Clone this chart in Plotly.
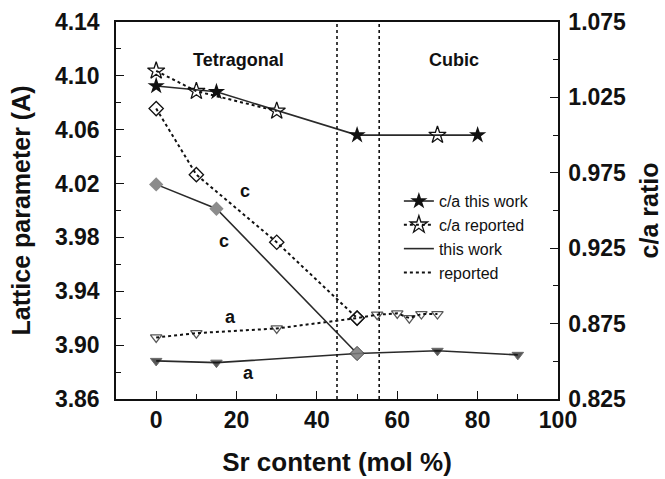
import plotly.graph_objects as go

# ---- data ----
comp_ca_work = [0, 15, 50, 80]
ca_work = [1.0326, 1.0287, 1.000, 1.000]

comp_ca_rep = [0, 10, 30, 70]
ca_rep = [1.0426, 1.0291, 1.016, 1.000]

comp_c_work = [0, 15, 50]
c_work = [4.0194, 4.0013, 3.8938]

comp_a_work = [0, 15, 50, 70, 90]
a_work = [3.8883, 3.8870, 3.8938, 3.8958, 3.8928]

comp_c_rep = [0, 10, 30, 50]
c_rep = [4.0757, 4.0266, 3.9764, 3.9201]

comp_a_rep = [0, 10, 30, 50, 55, 60, 63, 66, 70]
a_rep = [3.9057, 3.9089, 3.9124, 3.9201, 3.9226, 3.9236, 3.9201, 3.9231, 3.9231]

phase_boundaries = [45, 55.5]

x_ticks = [0, 20, 40, 60, 80, 100]

FONT = "Liberation Sans, Arial, sans-serif"
BLACK = "#111111"
LINE = "#2a2a2a"
GRAY = "#8c8c8c"

fig = go.Figure()

# lattice parameter traces (left axis)
fig.add_trace(go.Scatter(
    x=comp_c_rep, y=c_rep, mode="lines+markers", showlegend=False,
    line=dict(color=BLACK, width=2, dash="dot"),
    marker=dict(symbol="diamond-open", size=11, color=BLACK, line=dict(width=1.3)),
))
fig.add_trace(go.Scatter(
    x=comp_a_rep, y=a_rep, mode="lines+markers", showlegend=False,
    line=dict(color=BLACK, width=2, dash="dot"),
    marker=dict(symbol=["diamond-open" if v == 50 else "triangle-down-open" for v in comp_a_rep],
                size=[11 if v == 50 else 10 for v in comp_a_rep], color=BLACK, line=dict(width=1.3)),
))
fig.add_trace(go.Scatter(
    x=comp_c_work, y=c_work, mode="lines+markers", showlegend=False,
    line=dict(color=LINE, width=1.6),
    marker=dict(symbol="diamond", size=11, color=GRAY),
))
fig.add_trace(go.Scatter(
    x=comp_a_work, y=a_work, mode="lines+markers", showlegend=False,
    line=dict(color=LINE, width=1.6),
    marker=dict(symbol=["diamond" if v == 50 else "triangle-down" for v in comp_a_work],
                size=[11 if v == 50 else 10 for v in comp_a_work],
                color=[GRAY if v == 50 else BLACK for v in comp_a_work]),
))

# c/a traces (right axis)
fig.add_trace(go.Scatter(
    x=comp_ca_rep[:3], y=ca_rep[:3], mode="lines", showlegend=False, yaxis="y2",
    line=dict(color=BLACK, width=2, dash="dot"),
))
fig.add_trace(go.Scatter(
    x=comp_ca_work, y=ca_work, mode="lines+markers", name="c/a this work", yaxis="y2",
    line=dict(color=LINE, width=1.6),
    marker=dict(symbol="star", size=13, color=BLACK),
))
fig.add_trace(go.Scatter(
    x=comp_ca_rep, y=ca_rep, mode="markers", name="c/a reported", yaxis="y2",
    marker=dict(symbol="star-open", size=13, color=BLACK, line=dict(width=1.3)),
    showlegend=False,
))
# legend-only entries
fig.add_trace(go.Scatter(
    x=[None], y=[None], mode="lines+markers", name="c/a reported", yaxis="y2",
    line=dict(color=BLACK, width=2, dash="dot"),
    marker=dict(symbol="star-open", size=13, color=BLACK, line=dict(width=1.3)),
))
fig.add_trace(go.Scatter(
    x=[None], y=[None], mode="lines", name="this work",
    line=dict(color=LINE, width=1.6),
))
fig.add_trace(go.Scatter(
    x=[None], y=[None], mode="lines", name="reported",
    line=dict(color=BLACK, width=2, dash="dot"),
))

for xb in phase_boundaries:
    fig.add_vline(x=xb, line=dict(color=BLACK, width=1.6, dash="dot"))

labels = [
    ("Tetragonal", 20.5, 4.112),
    ("Cubic", 74, 4.112),
    ("c", 22.2, 4.0144),
    ("c", 16.8, 3.9777),
    ("a", 18.5, 3.9206),
    ("a", 23, 3.879),
]
for txt, xx, yy in labels:
    fig.add_annotation(x=xx, y=yy, text=txt, showarrow=False,
                       font=dict(family=FONT, size=18, color=BLACK, weight="bold"))

axis_common = dict(
    showline=True, linecolor=BLACK, linewidth=1.5, showgrid=False, zeroline=False,
    ticks="inside", ticklen=8, tickwidth=1.3, tickcolor=BLACK, automargin=False,
    tickfont=dict(family=FONT, size=23, color=BLACK, weight="bold"),
)

fig.update_layout(
    width=665, height=479,
    margin=dict(l=116, r=107, t=22, b=80),
    paper_bgcolor="white", plot_bgcolor="white",
    xaxis=dict(range=[-10, 100], tickvals=x_ticks, mirror=True, ticklabelstandoff=0,
               minor=dict(ticks="inside", ticklen=5, dtick=10, tick0=0, tickcolor=BLACK),
               title=dict(text="Sr content (mol %)", standoff=20,
                          font=dict(family=FONT, size=26, color=BLACK, weight="bold")),
               **axis_common),
    yaxis=dict(range=[3.86, 4.14], dtick=0.04, tick0=3.86, tickformat=".2f", ticklabelstandoff=10,
               minor=dict(ticks="inside", ticklen=5, dtick=0.02, tick0=3.86, tickcolor=BLACK),
               title=dict(text="Lattice parameter (A)", standoff=17,
                          font=dict(family=FONT, size=25, color=BLACK, weight="bold")),
               **axis_common),
    yaxis2=dict(overlaying="y", side="right", range=[0.825, 1.075], dtick=0.05, tick0=0.825,
                tickformat=".3f", ticklabelstandoff=4,
                minor=dict(ticks="inside", ticklen=5, dtick=0.025, tick0=0.825, tickcolor=BLACK),
                title=dict(text="c/a ratio", standoff=15,
                           font=dict(family=FONT, size=25, color=BLACK, weight="bold")),
                **axis_common),
    legend=dict(x=0.64, y=0.57, xanchor="left", yanchor="top", bgcolor="rgba(0,0,0,0)",
                font=dict(family=FONT, size=16, color=BLACK), tracegroupgap=0),
)

fig.write_html("out.html")
